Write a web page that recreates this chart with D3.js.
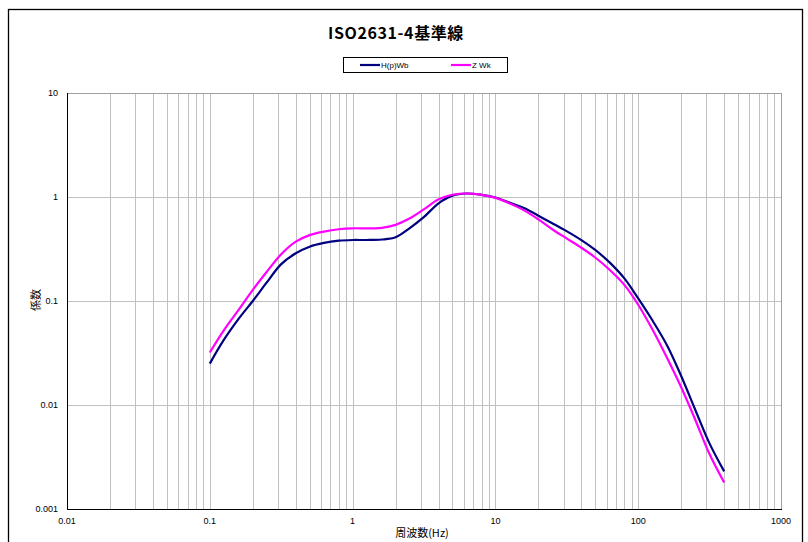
<!DOCTYPE html>
<html>
<head>
<meta charset="utf-8">
<script src="https://cdn.jsdelivr.net/npm/d3@7"></script>
<style>
  body { margin: 0; background: #fff; }
  text { font-family: "Liberation Sans", Arial, sans-serif; }
  .jp { font-family: "Noto Sans CJK JP", sans-serif; }
</style>
</head>
<body>
<svg width="808" height="542"></svg>
<script>
// 1/3 octave band frequencies (Hz)
var freqs = [0.1,0.125,0.16,0.2,0.25,0.315,0.4,0.5,0.63,0.8,1,1.25,1.6,2,2.5,3.15,4,5,6.3,8,10,
  12.5,16,20,25,31.5,40,50,63,80,100,125,160,200,250,315,400];
var hpWb = [0.025,0.042,0.068,0.10,0.15,0.225,0.288,0.333,0.362,0.38,0.386,0.386,0.39,0.41,0.50,0.64,0.87,1.03,1.08,1.05,0.99,
  0.885,0.78,0.66,0.56,0.47,0.385,0.31,0.235,0.165,0.106,0.066,0.037,0.019,0.0091,0.0043,0.0023];
var zWk = [0.032,0.052,0.083,0.128,0.19,0.28,0.372,0.43,0.465,0.49,0.50,0.50,0.505,0.54,0.62,0.76,0.95,1.05,1.08,1.05,0.98,
  0.87,0.74,0.61,0.49,0.40,0.325,0.262,0.20,0.143,0.092,0.054,0.028,0.0148,0.0073,0.0034,0.0018];
var seriesNames = ["H(p)Wb", "Z Wk"];
var seriesColors = ["#000080", "#ff00ff"];
var xTicks = [0.01,0.1,1,10,100,1000];
var yTicks = [0.001,0.01,0.1,1,10];

var svg = d3.select("svg");
var pLeft = 67, pRight = 781, pTop = 93, pBottom = 509;

// chart frame
svg.append("rect").attr("x",8.5).attr("y",9.5).attr("width",794).attr("height",560)
  .attr("fill","none").attr("stroke","#000").attr("stroke-width",1.3);

var x = d3.scaleLog().domain([0.01,1000]).range([pLeft,pRight]);
var y = d3.scaleLog().domain([0.001,10]).range([pBottom,pTop]);

// vertical grid (major + minor)
var vgrid = [];
for (var d = 0.01; d < 1000; d *= 10) for (var k = 1; k < 10; k++) vgrid.push(+(d*k).toPrecision(3));
svg.append("g").selectAll("line").data(vgrid).enter().append("line")
  .attr("x1", function(v){ return Math.round(x(v))+0.5; })
  .attr("x2", function(v){ return Math.round(x(v))+0.5; })
  .attr("y1", pTop).attr("y2", pBottom)
  .attr("stroke", "#c0c0c0").attr("stroke-width", 1);
svg.append("g").selectAll("line").data(yTicks).enter().append("line")
  .attr("x1", pLeft).attr("x2", pRight)
  .attr("y1", function(v){ return Math.round(y(v))+0.5; })
  .attr("y2", function(v){ return Math.round(y(v))+0.5; })
  .attr("stroke", "#c0c0c0").attr("stroke-width", 1);

// plot border (gray top/right) and axes (black)
svg.append("rect").attr("x",pLeft+0.5).attr("y",pTop+0.5).attr("width",pRight-pLeft).attr("height",pBottom-pTop)
  .attr("fill","none").attr("stroke","#a0a0a0");
svg.append("line").attr("x1",pLeft+0.5).attr("x2",pLeft+0.5).attr("y1",pTop).attr("y2",pBottom+0.5)
  .attr("stroke","#000");
svg.append("line").attr("x1",pLeft).attr("x2",pRight+1).attr("y1",pBottom+0.5).attr("y2",pBottom+0.5)
  .attr("stroke","#000");

// tick labels
svg.append("g").selectAll("text").data(yTicks).enter().append("text")
  .attr("x", 58).attr("y", function(v){ return y(v)+3; })
  .attr("text-anchor","end").attr("font-size",9)
  .text(function(v){ return String(v); });
svg.append("g").selectAll("text").data(xTicks).enter().append("text")
  .attr("x", function(v){ return x(v); }).attr("y", 524)
  .attr("text-anchor","middle").attr("font-size",9)
  .text(function(v){ return String(v); });

// curves
var line = d3.line()
  .x(function(d){ return x(d[0]); })
  .y(function(d){ return y(d[1]); })
  .curve(d3.curveCatmullRom.alpha(0.5));
[hpWb, zWk].forEach(function(vals, i){
  svg.append("path")
    .datum(freqs.map(function(f, j){ return [f, vals[j]]; }))
    .attr("fill","none").attr("stroke",seriesColors[i]).attr("stroke-width",2.2)
    .attr("d", line);
});

// title
svg.append("text").attr("class","jp").attr("x",396).attr("y",39)
  .attr("text-anchor","middle").attr("font-size",16).attr("font-weight","bold")
  .attr("letter-spacing",0.6)
  .text("ISO2631-4基準線");

// legend
svg.append("rect").attr("x",343.5).attr("y",57.5).attr("width",164).attr("height",15)
  .attr("fill","#fff").attr("stroke","#000");
var legX = [360, 451];
seriesNames.forEach(function(name, i){
  svg.append("line").attr("x1",legX[i]).attr("x2",legX[i]+20).attr("y1",65).attr("y2",65)
    .attr("stroke",seriesColors[i]).attr("stroke-width",2.2);
  svg.append("text").attr("x",legX[i]+21).attr("y",68).attr("font-size",8).text(name);
});

// axis titles
svg.append("text").attr("class","jp").attr("x",422).attr("y",537)
  .attr("text-anchor","middle").attr("font-size",11).text("周波数(Hz)");
svg.append("text").attr("class","jp")
  .attr("transform","translate(40,300) rotate(-90)")
  .attr("text-anchor","middle").attr("font-size",11).text("係数");
</script>
</body>
</html>
